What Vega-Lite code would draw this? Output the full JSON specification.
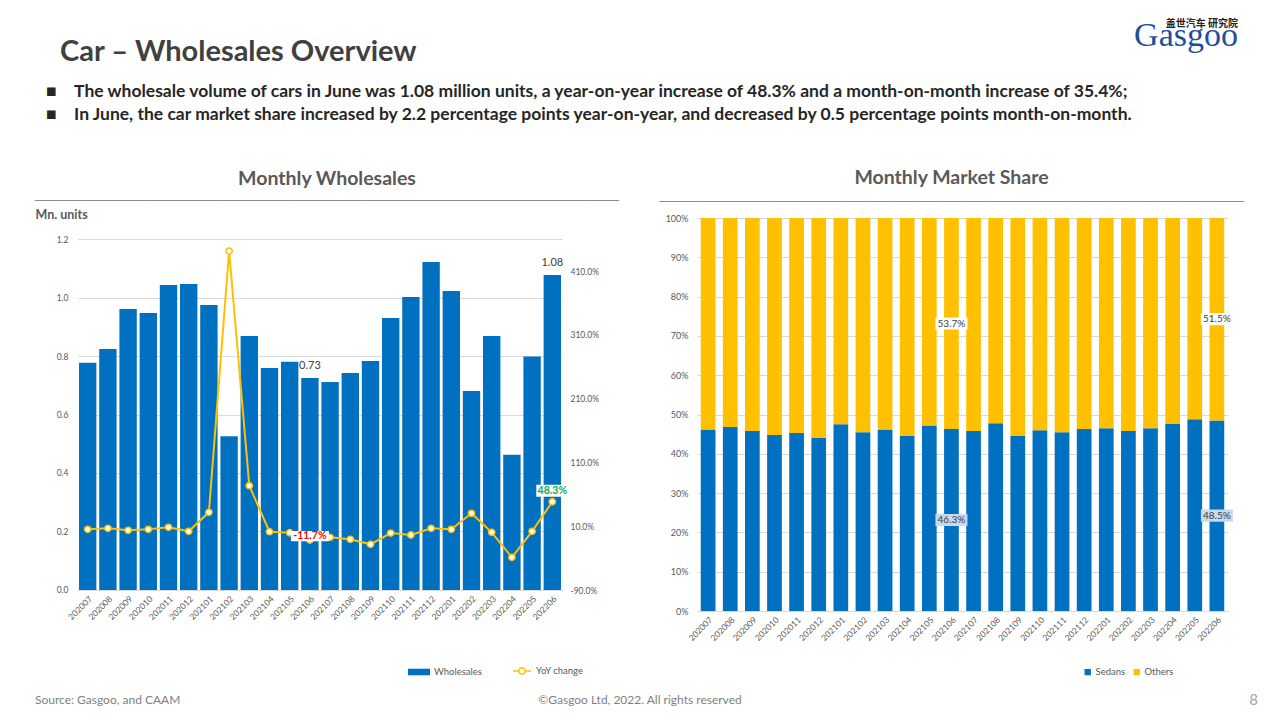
{
  "$schema": "https://vega.github.io/schema/vega-lite/v6.json",
  "background": "white",
  "padding": {"left": 35, "top": 18, "right": 0, "bottom": 0},
  "title": {
    "text": "盖世汽车 研究院",
    "subtitle": "Gasgoo",
    "anchor": "end",
    "dx": -20,
    "offset": -15,
    "font": "Noto Sans CJK SC",
    "fontSize": 10,
    "fontWeight": "bold",
    "color": "#222222",
    "subtitleFont": "Liberation Serif",
    "subtitleFontSize": 34,
    "subtitleColor": "#1f4e9c",
    "subtitlePadding": -10
  },
  "datasets": {
    "wholesale": [
      {"month": "202007", "wholesales": 0.777, "yoy": 0.051},
      {"month": "202008", "wholesales": 0.824, "yoy": 0.067},
      {"month": "202009", "wholesales": 0.961, "yoy": 0.036},
      {"month": "202010", "wholesales": 0.947, "yoy": 0.051},
      {"month": "202011", "wholesales": 1.043, "yoy": 0.083},
      {"month": "202012", "wholesales": 1.046, "yoy": 0.020},
      {"month": "202101", "wholesales": 0.974, "yoy": 0.318},
      {"month": "202102", "wholesales": 0.526, "yoy": 4.413},
      {"month": "202103", "wholesales": 0.868, "yoy": 0.735},
      {"month": "202104", "wholesales": 0.759, "yoy": 0.014},
      {"month": "202105", "wholesales": 0.780, "yoy": -0.002},
      {"month": "202106", "wholesales": 0.725, "yoy": -0.117, "wlabel": "0.73", "ylabel": "-11.7%"},
      {"month": "202107", "wholesales": 0.711, "yoy": -0.074},
      {"month": "202108", "wholesales": 0.742, "yoy": -0.105},
      {"month": "202109", "wholesales": 0.783, "yoy": -0.184},
      {"month": "202110", "wholesales": 0.930, "yoy": -0.007},
      {"month": "202111", "wholesales": 1.002, "yoy": -0.038},
      {"month": "202112", "wholesales": 1.121, "yoy": 0.067},
      {"month": "202201", "wholesales": 1.022, "yoy": 0.051},
      {"month": "202202", "wholesales": 0.680, "yoy": 0.302},
      {"month": "202203", "wholesales": 0.868, "yoy": 0.004},
      {"month": "202204", "wholesales": 0.462, "yoy": -0.388},
      {"month": "202205", "wholesales": 0.798, "yoy": 0.020},
      {"month": "202206", "wholesales": 1.077, "yoy": 0.483, "wlabel": "1.08", "ylabel": "48.3%"}
    ],
    "share": [
      {"month": "202007", "type": "Sedans", "share": 0.462}, {"month": "202007", "type": "Others", "share": 0.538},
      {"month": "202008", "type": "Sedans", "share": 0.468}, {"month": "202008", "type": "Others", "share": 0.532},
      {"month": "202009", "type": "Sedans", "share": 0.458}, {"month": "202009", "type": "Others", "share": 0.542},
      {"month": "202010", "type": "Sedans", "share": 0.448}, {"month": "202010", "type": "Others", "share": 0.552},
      {"month": "202011", "type": "Sedans", "share": 0.453}, {"month": "202011", "type": "Others", "share": 0.547},
      {"month": "202012", "type": "Sedans", "share": 0.440}, {"month": "202012", "type": "Others", "share": 0.560},
      {"month": "202101", "type": "Sedans", "share": 0.475}, {"month": "202101", "type": "Others", "share": 0.525},
      {"month": "202102", "type": "Sedans", "share": 0.455}, {"month": "202102", "type": "Others", "share": 0.545},
      {"month": "202103", "type": "Sedans", "share": 0.462}, {"month": "202103", "type": "Others", "share": 0.538},
      {"month": "202104", "type": "Sedans", "share": 0.445}, {"month": "202104", "type": "Others", "share": 0.555},
      {"month": "202105", "type": "Sedans", "share": 0.472}, {"month": "202105", "type": "Others", "share": 0.528},
      {"month": "202106", "type": "Sedans", "share": 0.463, "label": "46.3%"}, {"month": "202106", "type": "Others", "share": 0.537, "label": "53.7%"},
      {"month": "202107", "type": "Sedans", "share": 0.458}, {"month": "202107", "type": "Others", "share": 0.542},
      {"month": "202108", "type": "Sedans", "share": 0.478}, {"month": "202108", "type": "Others", "share": 0.522},
      {"month": "202109", "type": "Sedans", "share": 0.445}, {"month": "202109", "type": "Others", "share": 0.555},
      {"month": "202110", "type": "Sedans", "share": 0.460}, {"month": "202110", "type": "Others", "share": 0.540},
      {"month": "202111", "type": "Sedans", "share": 0.455}, {"month": "202111", "type": "Others", "share": 0.545},
      {"month": "202112", "type": "Sedans", "share": 0.463}, {"month": "202112", "type": "Others", "share": 0.537},
      {"month": "202201", "type": "Sedans", "share": 0.465}, {"month": "202201", "type": "Others", "share": 0.535},
      {"month": "202202", "type": "Sedans", "share": 0.458}, {"month": "202202", "type": "Others", "share": 0.542},
      {"month": "202203", "type": "Sedans", "share": 0.465}, {"month": "202203", "type": "Others", "share": 0.535},
      {"month": "202204", "type": "Sedans", "share": 0.476}, {"month": "202204", "type": "Others", "share": 0.524},
      {"month": "202205", "type": "Sedans", "share": 0.488}, {"month": "202205", "type": "Others", "share": 0.512},
      {"month": "202206", "type": "Sedans", "share": 0.485, "label": "48.5%"}, {"month": "202206", "type": "Others", "share": 0.515, "label": "51.5%"}
    ]
  },
  "vconcat": [
    {
      "title": {
        "text": "\u200b\u00a0\u00a0Car – Wholesales Overview",
        "subtitle": [
          "■\u2003\u2009\u2009The wholesale volume of cars in June was 1.08 million units, a year-on-year increase of 48.3% and a month-on-month increase of 35.4%;",
          "■\u2003\u2009\u2009In June, the car market share increased by 2.2 percentage points year-on-year, and decreased by 0.5 percentage points month-on-month."
        ],
        "anchor": "start",
        "dx": 11,
        "offset": 45,
        "font": "Lato",
        "fontSize": 29,
        "fontWeight": "bold",
        "color": "#404040",
        "subtitleFont": "Lato",
        "subtitleFontSize": 17.5,
        "subtitleFontWeight": "bold",
        "subtitleColor": "#262626",
        "subtitleLineHeight": 23,
        "subtitlePadding": 16
      },
      "spacing": 40,
      "align": "none",
      "resolve": {"scale": {"color": "independent"}, "legend": {"color": "independent"}},
      "hconcat": [
        {
          "width": 484,
          "height": 393,
          "data": {"name": "wholesale"},
          "title": {"text": "Monthly Wholesales", "subtitle": "─────────────────────────────────────────────────────────────────────────────────────────────────", "anchor": "middle", "dx": 7, "offset": 1.5, "font": "Lato", "fontSize": 19.5, "fontWeight": "bold", "color": "#595959", "subtitleFont": "DejaVu Sans Mono", "subtitleFontSize": 10, "subtitleColor": "#7f7f7f", "subtitlePadding": 6.5},
          "layer": [
            {
              "layer": [
                {
                  "mark": {"type": "bar"},
                  "encoding": {
                    "x": {"field": "month", "type": "ordinal", "scale": {"paddingInner": 0.14, "paddingOuter": 0.05},
                      "axis": {"title": null, "offset": -21, "labelAngle": -45, "labelFontSize": 8.5, "labelColor": "#595959", "ticks": false, "tickSize": 0, "labelPadding": 4, "domainColor": "#d9d9d9", "labelOverlap": false}},
                    "y": {"field": "wholesales", "type": "quantitative", "scale": {"domain": [-0.0718, 1.2718], "nice": false, "zero": false},
                      "axis": {"orient": "left", "values": [0, 0.2, 0.4, 0.6, 0.8, 1.0, 1.2], "format": ".1f", "grid": true, "gridColor": "#d9d9d9", "domain": false, "ticks": false, "tickSize": 0, "labelPadding": 10, "labelFontSize": 8.5, "labelColor": "#595959",
                        "title": "Mn. units", "titleAngle": 0, "titleAlign": "left", "titleBaseline": "alphabetic", "titleX": -43, "titleY": 0, "titleFontSize": 12.5, "titleFontWeight": "bold", "titleColor": "#595959", "titleFont": "Lato"}},
                    "color": {"datum": "Wholesales", "type": "nominal", "scale": {"domain": ["Wholesales"], "range": ["#0070c0"]},
                      "legend": {"orient": "none", "legendX": 330, "legendY": 443, "title": null, "symbolType": "M-1,-0.3H1V0.3H-1Z", "symbolSize": 484, "symbolStrokeWidth": 0, "labelFontSize": 9.5, "labelOffset": 4, "labelColor": "#595959"}}
                  }
                },
                {
                  "transform": [{"filter": "isValid(datum.wlabel)"}],
                  "mark": {"type": "text", "dy": -12, "fontSize": 11, "color": "#404040", "font": "Lato"},
                  "encoding": {
                    "x": {"field": "month", "type": "ordinal"},
                    "y": {"field": "wholesales", "type": "quantitative"},
                    "text": {"field": "wlabel"}
                  }
                }
              ]
            },
            {
              "layer": [
                {
                  "mark": {"type": "line", "strokeWidth": 2},
                  "encoding": {
                    "x": {"field": "month", "type": "ordinal"},
                    "y": {"field": "yoy", "type": "quantitative", "scale": {"domain": [-1.229, 4.931], "nice": false, "zero": false},
                      "axis": {"orient": "right", "values": [-0.9, 0.1, 1.1, 2.1, 3.1, 4.1], "labelExpr": "replace(format(datum.value, '.1%'), '\u2212', '-')", "grid": false, "domain": false, "ticks": false, "tickSize": 0, "labelPadding": 8, "labelFontSize": 8.5, "labelColor": "#595959", "title": null}},
                    "stroke": {"datum": "YoY change", "type": "nominal", "scale": {"domain": ["YoY change"], "range": ["#ffc000"]},
                      "legend": {"orient": "none", "legendX": 434, "legendY": 443, "title": null, "symbolType": "M-1,0H-0.35M0.35,0H1M0.35,0A0.35,0.35 0 1,1 -0.35,0A0.35,0.35 0 1,1 0.35,0Z", "symbolSize": 324, "symbolStrokeWidth": 1.5, "symbolFillColor": "white", "labelFontSize": 9.5, "labelOffset": 4, "labelColor": "#595959"}}
                  }
                },
                {
                  "mark": {"type": "point", "shape": "circle", "filled": true, "fill": "white", "stroke": "#ffc000", "strokeWidth": 1.5, "size": 40, "opacity": 1},
                  "encoding": {
                    "x": {"field": "month", "type": "ordinal"},
                    "y": {"field": "yoy", "type": "quantitative"}
                  }
                },
                {
                  "transform": [{"filter": "isValid(datum.ylabel) && datum.yoy < 0"}],
                  "mark": {"type": "point", "shape": "M-1,-0.27H1V0.27H-1Z", "filled": true, "color": "white", "opacity": 1, "size": 1444, "yOffset": -4},
                  "encoding": {
                    "x": {"field": "month", "type": "ordinal"},
                    "y": {"field": "yoy", "type": "quantitative"}
                  }
                },
                {
                  "transform": [{"filter": "isValid(datum.ylabel) && datum.yoy < 0"}],
                  "mark": {"type": "text", "fontSize": 10.5, "fontWeight": "bold", "color": "#ff0000", "font": "Lato", "yOffset": -4},
                  "encoding": {
                    "x": {"field": "month", "type": "ordinal"},
                    "y": {"field": "yoy", "type": "quantitative"},
                    "text": {"field": "ylabel"}
                  }
                },
                {
                  "transform": [{"filter": "isValid(datum.ylabel) && datum.yoy > 0"}],
                  "mark": {"type": "point", "shape": "M-1,-0.38H1V0.38H-1Z", "filled": true, "color": "white", "opacity": 1, "size": 1024, "yOffset": -11},
                  "encoding": {
                    "x": {"field": "month", "type": "ordinal"},
                    "y": {"field": "yoy", "type": "quantitative"}
                  }
                },
                {
                  "transform": [{"filter": "isValid(datum.ylabel) && datum.yoy > 0"}],
                  "mark": {"type": "text", "fontSize": 10.5, "fontWeight": "bold", "color": "#00b050", "font": "Lato", "yOffset": -11},
                  "encoding": {
                    "x": {"field": "month", "type": "ordinal"},
                    "y": {"field": "yoy", "type": "quantitative"},
                    "text": {"field": "ylabel"}
                  }
                }
              ]
            }
          ],
          "resolve": {"scale": {"y": "independent"}}
        },
        {
          "width": 531,
          "height": 393,
          "data": {"name": "share"},
          "title": {"text": "Monthly Market Share", "subtitle": "─────────────────────────────────────────────────────────────────────────────────────────────────", "anchor": "middle", "dx": -11, "offset": 6.5, "font": "Lato", "fontSize": 19.5, "fontWeight": "bold", "color": "#595959", "subtitleFont": "DejaVu Sans Mono", "subtitleFontSize": 10, "subtitleColor": "#7f7f7f", "subtitlePadding": 8},
          "layer": [
            {
              "mark": {"type": "bar"},
              "encoding": {
                "x": {"field": "month", "type": "ordinal", "scale": {"paddingInner": 0.335, "paddingOuter": 0.17},
                  "axis": {"title": null, "labelAngle": -45, "labelFontSize": 8.5, "labelColor": "#595959", "ticks": false, "tickSize": 0, "labelPadding": 4, "domainColor": "#d9d9d9", "labelOverlap": false}},
                "y": {"field": "share", "type": "quantitative", "stack": "zero", "scale": {"domain": [0, 1]},
                  "axis": {"values": [0, 0.1, 0.2, 0.3, 0.4, 0.5, 0.6, 0.7, 0.8, 0.9, 1.0], "format": ".0%", "grid": true, "gridColor": "#d9d9d9", "domain": false, "ticks": false, "tickSize": 0, "labelPadding": 9, "labelFontSize": 9, "labelColor": "#595959", "title": null, "labelOverlap": false}},
                "color": {"field": "type", "type": "nominal", "scale": {"domain": ["Sedans", "Others"], "range": ["#0070c0", "#ffc000"]},
                  "legend": {"orient": "none", "legendX": 386, "legendY": 449, "direction": "horizontal", "title": null, "symbolType": "square", "symbolSize": 40, "symbolStrokeWidth": 0, "labelFontSize": 9.5, "labelOffset": 3, "columnPadding": 6, "labelColor": "#595959"}},
                "order": {"field": "type", "sort": "descending"}
              }
            },
            {
              "transform": [
                {"stack": "share", "groupby": ["month"], "sort": [{"field": "type", "order": "descending"}], "as": ["s0", "s1"]},
                {"calculate": "(datum.s0 + datum.s1) / 2", "as": "mid"},
                {"filter": "isValid(datum.label)"}
              ],
              "mark": {"type": "point", "shape": "M-1,-0.38H1V0.38H-1Z", "filled": true, "opacity": 1, "size": 1024},
              "encoding": {
                "x": {"field": "month", "type": "ordinal"},
                "y": {"field": "mid", "type": "quantitative",
                  "axis": {"values": [0, 0.1, 0.2, 0.3, 0.4, 0.5, 0.6, 0.7, 0.8, 0.9, 1.0], "format": ".0%", "grid": true, "gridColor": "#d9d9d9", "domain": false, "ticks": false, "tickSize": 0, "labelPadding": 9, "labelFontSize": 9, "labelColor": "#595959", "title": null, "labelOverlap": false}},
                "color": {"condition": {"test": "datum.type === 'Sedans'", "value": "#c5d9ef"}, "value": "#ffffff"}
              }
            },
            {
              "transform": [
                {"stack": "share", "groupby": ["month"], "sort": [{"field": "type", "order": "descending"}], "as": ["s0", "s1"]},
                {"calculate": "(datum.s0 + datum.s1) / 2", "as": "mid"},
                {"filter": "isValid(datum.label)"}
              ],
              "mark": {"type": "text", "fontSize": 10, "color": "#404040", "font": "Lato"},
              "encoding": {
                "x": {"field": "month", "type": "ordinal"},
                "y": {"field": "mid", "type": "quantitative",
                  "axis": {"values": [0, 0.1, 0.2, 0.3, 0.4, 0.5, 0.6, 0.7, 0.8, 0.9, 1.0], "format": ".0%", "grid": true, "gridColor": "#d9d9d9", "domain": false, "ticks": false, "tickSize": 0, "labelPadding": 9, "labelFontSize": 9, "labelColor": "#595959", "title": null, "labelOverlap": false}},
                "text": {"field": "label"}
              }
            }
          ]
        }
      ]
    },
    {
      "width": 1180,
      "height": 10,
      "data": {"values": [
        {"pos": "left", "text": "Source: Gasgoo, and CAAM"},
        {"pos": "center", "text": "©Gasgoo Ltd,  2022. All rights reserved"},
        {"pos": "right", "text": "8"}
      ]},
      "encoding": {
        "x": {"field": "pos", "type": "nominal", "scale": {"type": "point", "domain": ["left", "center", "right"], "padding": 0}, "axis": null},
        "text": {"field": "text"}
      },
      "layer": [
        {"transform": [{"filter": "datum.pos === 'left'"}], "mark": {"type": "text", "align": "left", "dx": -43, "fontSize": 12, "color": "#7f7f7f", "font": "Lato"}},
        {"transform": [{"filter": "datum.pos === 'center'"}], "mark": {"type": "text", "align": "center", "dx": -28, "fontSize": 12, "color": "#7f7f7f", "font": "Lato"}},
        {"transform": [{"filter": "datum.pos === 'right'"}], "mark": {"type": "text", "align": "right", "fontSize": 15, "color": "#a6a6a6", "font": "Lato"}}
      ]
    }
  ],
  "spacing": 16,
  "config": {
    "view": {"stroke": null},
    "font": "Lato",
    "axis": {"labelFont": "Lato"},
    "legend": {"labelFont": "Lato"}
  }
}
